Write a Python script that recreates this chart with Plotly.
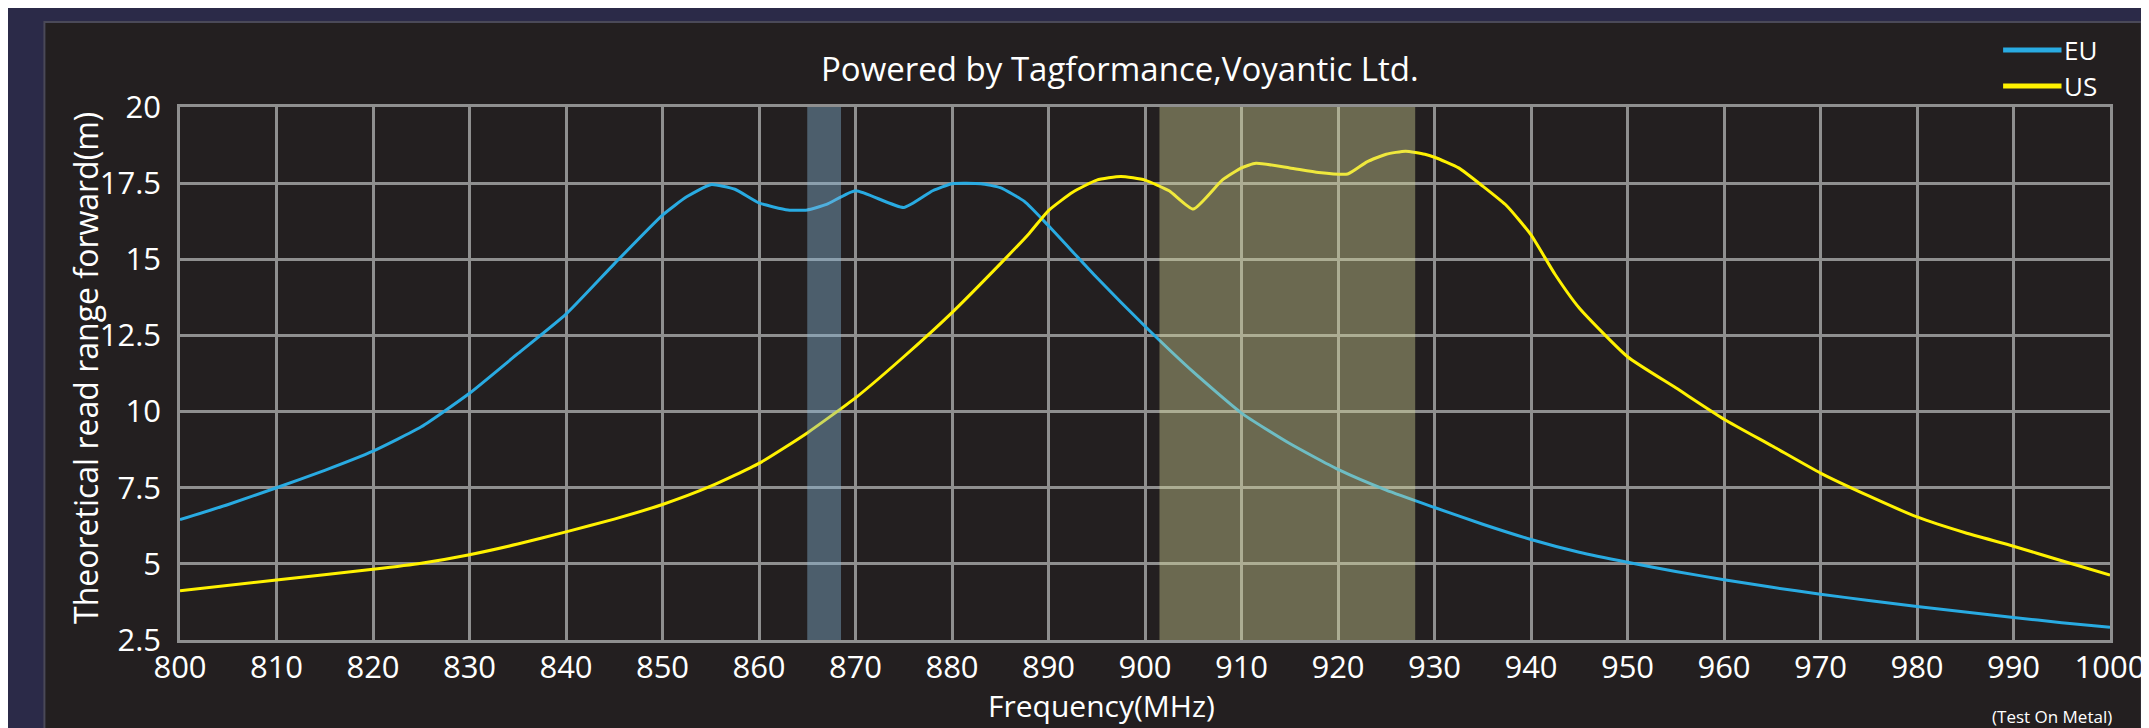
import plotly.graph_objects as go

# ---------------- data ----------------
eu_freq = [800, 805, 810, 815, 820, 825, 830, 835, 840, 845, 850, 852.5, 855, 857.5,
           860, 863, 865, 867, 870, 875, 878, 880, 883, 885, 887.5, 890, 895, 900,
           905, 910, 915, 920, 925, 930, 935, 940, 945, 950, 955, 960, 965, 970,
           975, 980, 985, 990, 995, 1000]
eu_range = [6.45, 6.95, 7.5, 8.07, 8.7, 9.5, 10.6, 11.9, 13.2, 14.85, 16.45, 17.05, 17.45, 17.3,
            16.85, 16.62, 16.62, 16.8, 17.25, 16.7, 17.25, 17.48, 17.48, 17.35, 16.9, 16.1, 14.4, 12.8,
            11.3, 9.95, 8.95, 8.1, 7.42, 6.85, 6.3, 5.8, 5.38, 5.05, 4.75, 4.48, 4.23, 4.0,
            3.8, 3.6, 3.42, 3.24, 3.07, 2.92]

us_freq = [800, 810, 820, 825, 830, 835, 840, 845, 850, 855, 860, 865, 870, 875, 880,
           885, 888, 890, 892.5, 895, 897.5, 900, 902.5, 905, 908, 910, 911.5, 915, 918,
           921, 923, 925, 927, 929, 930, 932.5, 935, 937.5, 940, 942.5, 945, 950, 955,
           960, 965, 970, 975, 980, 985, 990, 995, 1000]
us_range = [4.12, 4.47, 4.82, 5.02, 5.3, 5.65, 6.05, 6.47, 6.95, 7.55, 8.3, 9.3, 10.45, 11.8, 13.25,
            14.85, 15.85, 16.6, 17.2, 17.6, 17.72, 17.6, 17.25, 16.65, 17.6, 18.0, 18.15, 18.0, 17.85,
            17.8, 18.2, 18.45, 18.55, 18.45, 18.35, 18.0, 17.4, 16.75, 15.8, 14.5, 13.4, 11.8, 10.78,
            9.75, 8.87, 7.98, 7.23, 6.54, 6.02, 5.58, 5.1, 4.63]

eu_band = [865, 868.5]
us_band = [901.5, 928]

x_ticks = list(range(800, 1001, 10))
y_ticks = [2.5, 5, 7.5, 10, 12.5, 15, 17.5, 20]
y_tick_labels = ["2.5", "5", "7.5", "10", "12.5", "15", "17.5", "20"]

series_names = ["EU", "US"]
series_colors = ["#29abe2", "#fff200"]

# ---------------- figure ----------------
W, H = 2149, 728
L, R, T, B = 172, 27, 99, 96
PW, PH = W - L - R, H - T - B


def px_x(p):
    return (p - L) / PW


def px_y(p):
    return (H - B - p) / PH


FONT = "Open Sans, Noto Sans, sans-serif"
GRID = "#8f8f8f"
PANEL = "#231f20"
NAVY = "#2b2a48"

fig = go.Figure()
for name, xs, ys, col in [("EU", eu_freq, eu_range, series_colors[0]),
                          ("US", us_freq, us_range, series_colors[1])]:
    fig.add_trace(go.Scatter(x=xs, y=ys, mode="lines", name=name,
                             line=dict(color=col, width=3, shape="spline", smoothing=0.5),
                             showlegend=False))

shapes = [
    # dark panel
    dict(type="rect", xref="paper", yref="paper", x0=px_x(35), x1=px_x(W + 5),
         y0=px_y(H + 5), y1=px_y(14), fillcolor=PANEL,
         line=dict(color="#4a4958", width=2), layer="below"),
    # frequency bands
    dict(type="rect", xref="x", yref="paper", x0=eu_band[0], x1=eu_band[1], y0=0, y1=1,
         fillcolor="rgba(133,180,215,0.42)", line=dict(width=0), layer="above"),
    dict(type="rect", xref="x", yref="paper", x0=us_band[0], x1=us_band[1], y0=0, y1=1,
         fillcolor="rgba(215,218,152,0.40)", line=dict(width=0), layer="above"),
]

# manual legend
leg_y = [42, 78]
for name, col, yy in zip(series_names, series_colors, leg_y):
    shapes.append(dict(type="line", xref="paper", yref="paper",
                       x0=px_x(2014), x1=px_x(2073), y0=px_y(yy), y1=px_y(yy),
                       line=dict(color=col, width=5)))

annotations = [
    dict(text="Powered by Tagformance,Voyantic Ltd.", xref="paper", yref="paper",
         x=px_x(1122), y=px_y(61), xanchor="center", yanchor="middle", showarrow=False,
         font=dict(family=FONT, size=33, color="#ffffff")),
    dict(text="Theoretical read range forward(m)", xref="paper", yref="paper",
         x=px_x(76), y=px_y(360), xanchor="center", yanchor="middle", showarrow=False,
         textangle=-90, font=dict(family=FONT, size=32, color="#ffffff")),
    dict(text="Frequency(MHz)", xref="paper", yref="paper",
         x=px_x(1103), y=px_y(697), xanchor="center", yanchor="middle", showarrow=False,
         font=dict(family=FONT, size=30, color="#ffffff")),
    dict(text="(Test On Metal)", xref="paper", yref="paper",
         x=px_x(2126), y=px_y(708), xanchor="right", yanchor="middle", showarrow=False,
         font=dict(family=FONT, size=17, color="#ffffff")),
]
for name, yy in zip(series_names, leg_y):
    annotations.append(dict(text=name, xref="paper", yref="paper",
                            x=px_x(2074), y=px_y(yy), xanchor="left", yanchor="middle",
                            showarrow=False, font=dict(family=FONT, size=26, color="#ffffff")))

fig.update_layout(
    width=W, height=H, autosize=False,
    margin=dict(l=L, r=R, t=T, b=B, pad=0),
    paper_bgcolor=NAVY, plot_bgcolor=PANEL,
    shapes=shapes, annotations=annotations,
    showlegend=False,
    xaxis=dict(range=[800, 1000], tickvals=x_ticks, showgrid=True, gridcolor=GRID, gridwidth=2.5,
               showline=True, linecolor=GRID, linewidth=2.5, mirror=True, zeroline=False,
               ticks="", tickfont=dict(family=FONT, size=31, color="#ffffff"),
               ticklabelstandoff=-2, ticklabeloverflow="allow", fixedrange=True),
    yaxis=dict(range=[2.5, 20], tickvals=y_ticks, ticktext=y_tick_labels, showgrid=True,
               gridcolor=GRID, gridwidth=2.5, showline=True, linecolor=GRID, linewidth=2.5,
               mirror=True, zeroline=False, ticks="",
               tickfont=dict(family=FONT, size=31, color="#ffffff"),
               ticklabelstandoff=10, fixedrange=True),
)

fig.write_html("out.html")
